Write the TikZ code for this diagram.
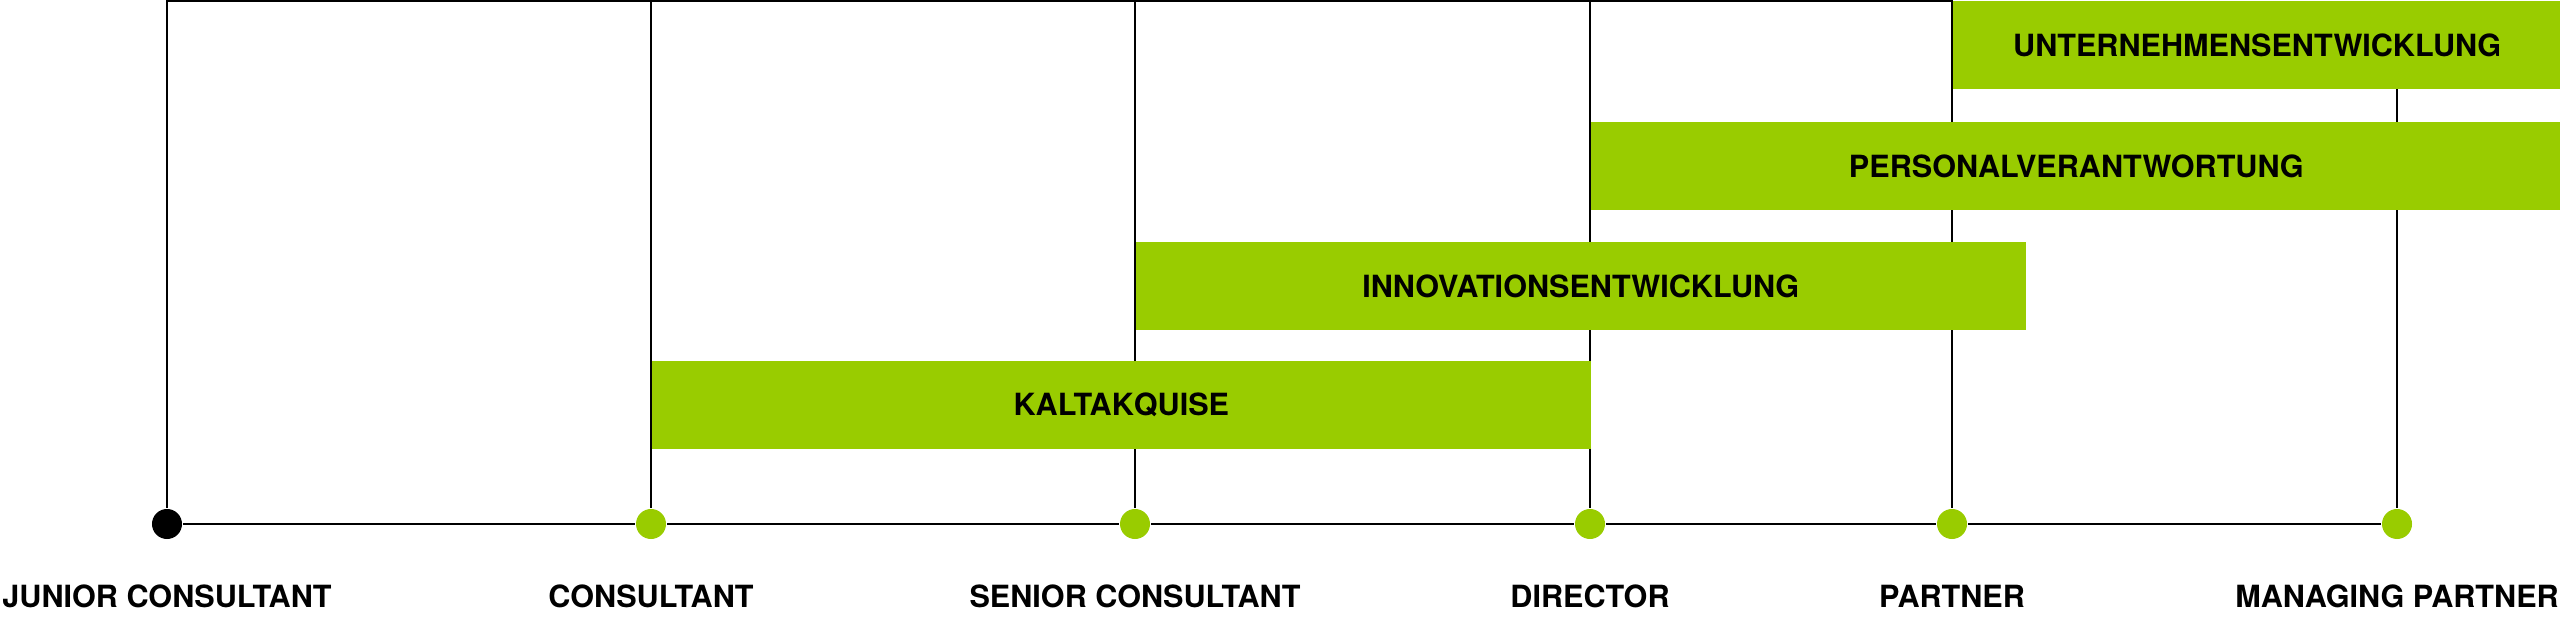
\documentclass[tikz,border=0pt]{standalone}
\usepackage{fontspec}
\setmainfont{TeX Gyre Heros}
\definecolor{barGreen}{HTML}{99CC00}
\begin{document}
\begin{tikzpicture}[x=0.01cm, y=-0.01cm, line width=0.6pt,
        dot/.style={circle, fill=barGreen, inner sep=0pt, minimum size=0.3cm},
        bar/.style={fill=barGreen, anchor=north west, inner sep=0pt, minimum height=0.88cm,
            font=\fontsize{8.7}{10}\selectfont\bfseries},
        rank/.style={font=\fontsize{8.7}{10}\selectfont\bfseries}]
        \useasboundingbox (0,0) rectangle (2560,622);
        \coordinate (top) at (0,1);
        % career steps
        \node[dot, fill=black] (junior) at (167,524) {};
        \node[dot] (consultant) at (651,524) {};
        \node[dot] (senior) at (1135,524) {};
        \node[dot] (director) at (1590,524) {};
        \node[dot] (partner) at (1952,524) {};
        \node[dot] (managing) at (2397,524) {};
        \draw (junior) -- (consultant) -- (senior) -- (director) -- (partner) -- (managing);
        \draw (junior) -- (junior |- top) -- (partner |- top) -- (partner);
        \draw (consultant) -- (consultant |- top);
        \draw (senior) -- (senior |- top);
        \draw (director) -- (director |- top);
        \draw (managing) -- (managing |- top);
        % tasks
        \node[bar, minimum width=9.38cm] (kalt) at (651,360) {KALTAKQUISE};
        \node[bar, minimum width=8.89cm] (innovation) at (1135,241) {INNOVATIONSENTWICKLUNG};
        \node[bar, minimum width=9.70cm] (personal) at (1590,121) {PERSONALVERANTWORTUNG};
        \node[bar, minimum width=6.08cm] (unternehmen) at (1952,0) {UNTERNEHMENSENTWICKLUNG};
        % labels
        \node[rank] (juniorlabel) at (167,596) {JUNIOR CONSULTANT};
        \node[rank] (consultantlabel) at (651,596) {CONSULTANT};
        \node[rank] (seniorlabel) at (1135,596) {SENIOR CONSULTANT};
        \node[rank] (directorlabel) at (1590,596) {DIRECTOR};
        \node[rank] (partnerlabel) at (1952,596) {PARTNER};
        \node[rank] (managinglabel) at (2397,596) {MANAGING PARTNER};
    \end{tikzpicture}
\end{document}
